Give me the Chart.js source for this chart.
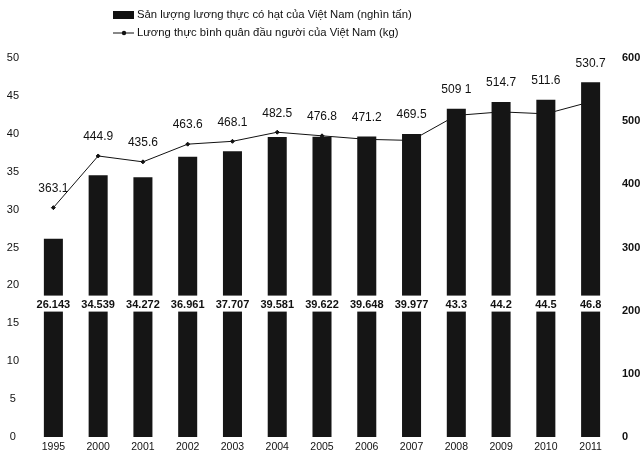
<!DOCTYPE html>
<html>
<head>
<meta charset="utf-8">
<script src="https://cdn.jsdelivr.net/npm/chart.js@4/dist/chart.umd.min.js"></script>
<style>
  html, body { margin: 0; padding: 0; background: #fff; }
  #wrap { width: 643px; height: 457px; }
</style>
</head>
<body>
<div id="wrap"><canvas id="chart"></canvas></div>
<script>
// số liệu
const years = ['1995', '2000', '2001', '2002', '2003', '2004', '2005', '2006', '2007', '2008', '2009', '2010', '2011'];
const sanLuong = [26.143, 34.539, 34.272, 36.961, 37.707, 39.581, 39.622, 39.648, 39.977, 43.3, 44.2, 44.5, 46.8];
const sanLuongText = ['26.143', '34.539', '34.272', '36.961', '37.707', '39.581', '39.622', '39.648', '39.977', '43.3', '44.2', '44.5', '46.8'];
const binhQuan = [363.1, 444.9, 435.6, 463.6, 468.1, 482.5, 476.8, 471.2, 469.5, 509.1, 514.7, 511.6, 530.7];
const binhQuanText = ['363.1', '444.9', '435.6', '463.6', '468.1', '482.5', '476.8', '471.2', '469.5', '509 1', '514.7', '511.6', '530.7'];

const FONT = '"Liberation Sans", Arial, sans-serif';

// chú giải vẽ tay: 2 dòng, canh trái cùng một cột
const legendPlugin = {
    id: 'legend2',
    afterDraw(chart) {
        const ctx = chart.ctx;
        const items = chart.data.datasets.map(ds => ds.label);
        ctx.save();
        ctx.font = '11.3px ' + FONT;
        ctx.fillStyle = '#111';
        ctx.strokeStyle = '#111';
        ctx.textBaseline = 'middle';
        ctx.textAlign = 'left';
        const x0 = 113, rows = [15, 33];
        // ô đen cho cột
        ctx.fillRect(x0, rows[0] - 4, 21, 8);
        ctx.fillText(items[0], x0 + 24, rows[0]);
        // đường có chấm
        ctx.lineWidth = 1;
        ctx.beginPath(); ctx.moveTo(x0, rows[1]); ctx.lineTo(x0 + 21, rows[1]); ctx.stroke();
        ctx.beginPath(); ctx.arc(x0 + 11, rows[1], 2.2, 0, Math.PI * 2); ctx.fill();
        ctx.fillText(items[1], x0 + 24, rows[1]);
        ctx.restore();
    }
};

// nhãn giá trị cho cột và đường
const labelPlugin = {
    id: 'labels',
    afterDatasetsDraw(chart) {
        const ctx = chart.ctx;
        const yL = chart.scales.y;
        const barMeta = chart.getDatasetMeta(0);
        const lineMeta = chart.getDatasetMeta(1);
        ctx.save();
        ctx.textAlign = 'center';
        ctx.textBaseline = 'middle';

        // nhãn cột: nằm trong ô trắng cắt ngang cột
        const boxY = yL.getPixelForValue(17.6);
        barMeta.data.forEach((bar, i) => {
            ctx.fillStyle = '#fff';
            ctx.fillRect(bar.x - bar.width / 2 - 1, boxY - 8, bar.width + 2, 16);
            ctx.fillStyle = '#111';
            ctx.font = 'bold 11px ' + FONT;
            ctx.fillText(sanLuongText[i], bar.x, boxY + 1);
        });

        // nhãn đường
        ctx.font = '12px ' + FONT;
        ctx.fillStyle = '#111';
        lineMeta.data.forEach((pt, i) => {
            const barTop = barMeta.data[i].y;
            const top = Math.min(pt.y, barTop);
            ctx.fillText(binhQuanText[i], pt.x, top - 19);
        });
        ctx.restore();
    }
};

new Chart(document.getElementById('chart'), {
    data: {
        labels: years,
        datasets: [
            {
                type: 'bar',
                label: 'Sản lượng lương thực có hạt của Việt Nam (nghìn tấn)',
                data: sanLuong,
                backgroundColor: '#151515',
                borderWidth: 0,
                barPercentage: 0.85,
                categoryPercentage: 0.5,
                yAxisID: 'y'
            },
            {
                type: 'line',
                label: 'Lương thực bình quân đầu người của Việt Nam (kg)',
                data: binhQuan,
                borderColor: '#111',
                borderWidth: 1,
                backgroundColor: '#111',
                pointRadius: 2,
                pointStyle: 'rectRot',
                tension: 0,
                yAxisID: 'y1'
            }
        ]
    },
    options: {
        responsive: true,
        maintainAspectRatio: false,
        animation: false,
        layout: { padding: { left: 0, right: 0, top: 58, bottom: 0 } },
        plugins: {
            legend: { display: false },
            tooltip: { enabled: false }
        },
        scales: {
            x: {
                grid: { display: false, drawTicks: false },
                border: { display: false },
                ticks: { color: '#111', font: { family: FONT, size: 10.5 }, padding: 4 },
                afterFit: s => { s.height = 20; }
            },
            y: {
                position: 'left',
                min: 0, max: 50,
                grid: { display: false, drawTicks: false },
                border: { display: false },
                ticks: { stepSize: 5, color: '#111', font: { family: FONT, size: 11 }, padding: 12, crossAlign: 'center' },
                afterFit: s => { s.width = 31; }
            },
            y1: {
                position: 'right',
                min: 0, max: 600,
                grid: { display: false, drawTicks: false },
                border: { display: false },
                ticks: { stepSize: 100, color: '#111', font: { family: FONT, size: 11, weight: 'bold' }, padding: 9 },
                afterFit: s => { s.width = 30; }
            }
        }
    },
    plugins: [labelPlugin, legendPlugin]
});
</script>
</body>
</html>
